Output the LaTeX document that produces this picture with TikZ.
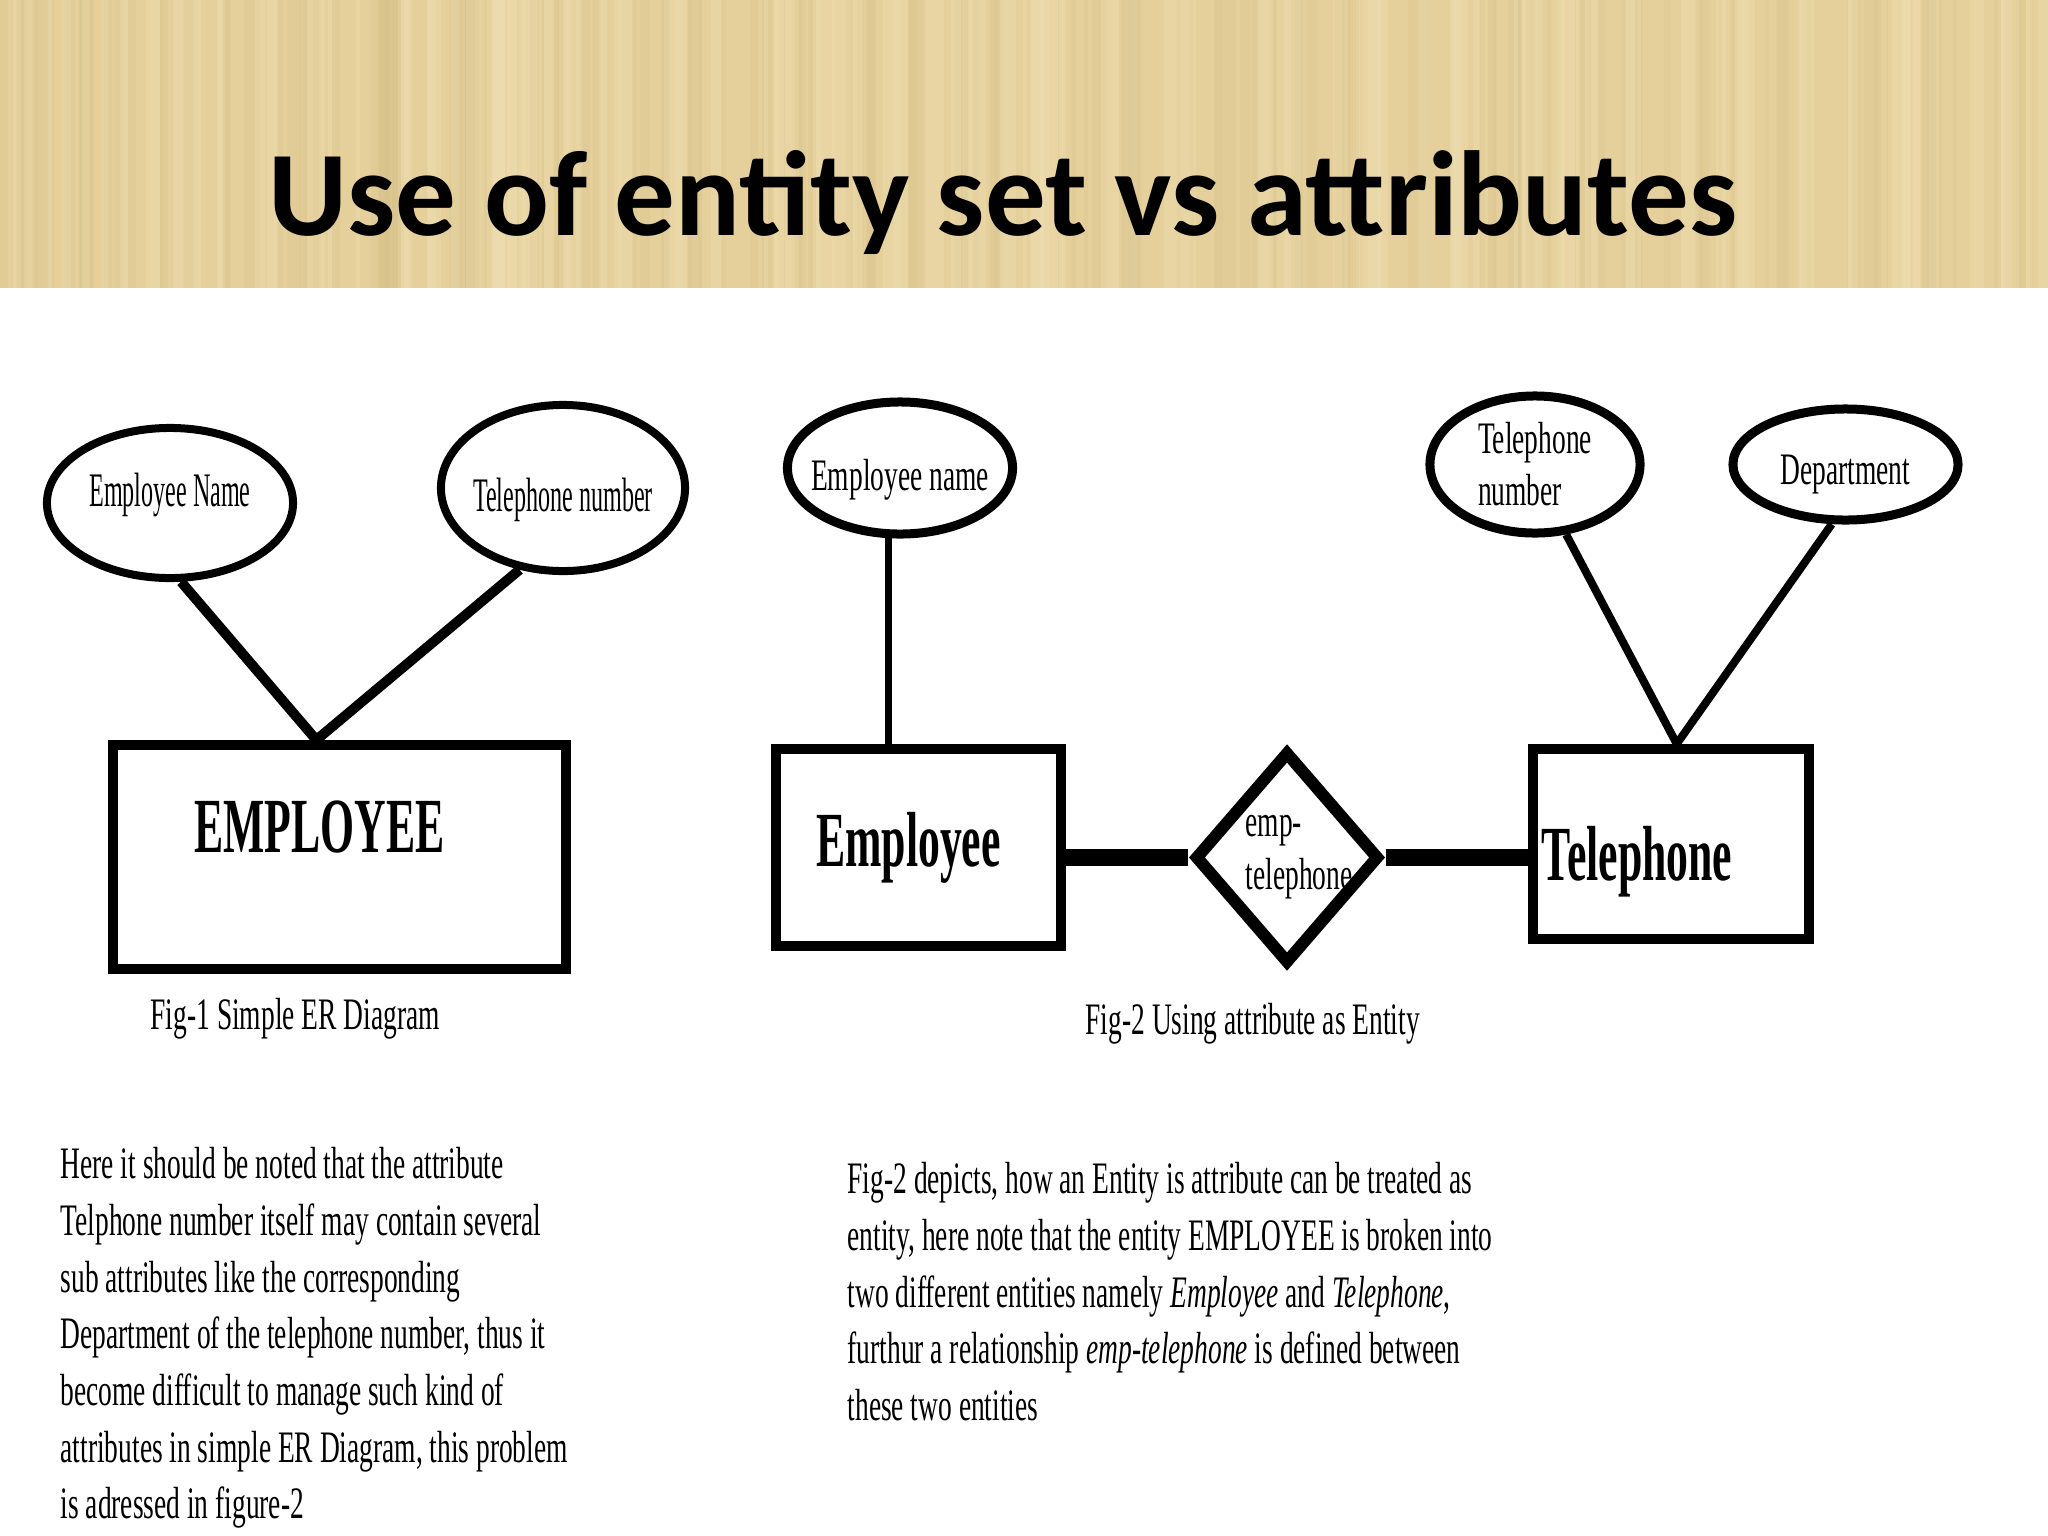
\documentclass[tikz,border=0pt]{standalone}
\usepackage{fontspec}
\setmainfont{Liberation Serif}
\newfontfamily\titlefont{Carlito}
\newfontfamily\slidefont[FakeStretch=0.61]{Liberation Serif}
\newfontfamily\ovalfont[FakeStretch=0.5]{Liberation Serif}
\newfontfamily\boxfont[FakeStretch=0.56]{Liberation Serif}
\usetikzlibrary{shapes.geometric,positioning,calc}
\usepackage{xcolor}
\definecolor{slidetan}{RGB}{229,208,156}
\definecolor{tandark}{RGB}{210,186,130}
\definecolor{tanlight}{RGB}{242,228,186}
\definecolor{erink}{RGB}{0,0,0}
\tikzset{
    entity/.style={
        draw=erink,line width=0.1cm,rectangle,inner sep=0pt
    },
    boxtext/.style={
        font=\boxfont\bfseries\fontsize{22.2}{26}\selectfont,inner sep=0pt
    },
    attr/.style={
        draw=erink,line width=#1,ellipse,inner xsep=-0.1cm,inner ysep=0pt,
        align=center,font=\slidefont\fontsize{12.8}{14.8}\selectfont
    },
    attr/.default=0.09cm,
    simpleattr/.style={
        attr=0.08cm,font=\ovalfont\fontsize{13.7}{16}\selectfont
    },
    rel/.style={
        draw=erink,line width=0.12cm,diamond,inner sep=0pt
    },
    reltext/.style={
        font=\slidefont\fontsize{12.8}{15.1}\selectfont,align=left,inner sep=0pt
    },
    conn/.style={
        draw=erink,line width=#1
    },
    conn/.default=0.1cm,
    captext/.style={
        font=\slidefont\fontsize{12.8}{15}\selectfont,inner sep=0pt
    },
    paratext/.style={
        font=\slidefont\fontsize{12.8}{16.1}\selectfont,align=left,inner sep=0pt
    },
    titletext/.style={
        font=\titlefont\bfseries\fontsize{34.4}{40}\selectfont,inner sep=0pt
    }
}
\begin{document}
\begin{tikzpicture}[x=0.01cm,y=-0.01cm]

\useasboundingbox (0,0) rectangle (2048,1536);
% papyrus band
\fill[slidetan] (0,0) rectangle (2048,288);
\pgfmathsetseed{11}
\foreach \i in {1,...,140}{
    \pgfmathsetmacro\xx{random(0,2048)}
    \pgfmathsetmacro\ww{random(1,4)}
    \draw[tandark,opacity=0.18,line width=\ww pt] (\xx,0)--(\xx,288);
}
\foreach \i in {1,...,120}{
    \pgfmathsetmacro\xx{random(0,2048)}
    \pgfmathsetmacro\ww{random(1,5)}
    \draw[tanlight,opacity=0.25,line width=\ww pt] (\xx,0)--(\xx,288);
}
\node[titletext,anchor=base west] (title) at (268,235) {Use of entity set vs attributes};

% Fig-1: simple ER diagram
\node[entity,minimum width=4.53cm,minimum height=2.24cm,
label={[boxtext,xshift=-0.2cm,yshift=0.3cm]center:EMPLOYEE}]
(emp1) at (339.5,857) {};

\node[simpleattr,minimum width=2.46cm,minimum height=1.50cm,text depth=0.26cm]
(ename1) at (170,503) {Employee Name};

\node[simpleattr,minimum width=2.44cm,minimum height=1.66cm,text height=0.57cm]
(tnum1) at (563,488) {Telephone number};

\coordinate (join1) at ($(emp1.north west)!0.45!(emp1.north east)$);
\draw[conn](ename1.-82)--(join1);
\draw[conn](tnum1.-118)--(join1);

\node[captext,anchor=base west] (cap1) at (150,1029) {Fig-1 Simple ER Diagram};

% Fig-2: attribute as entity
\node[entity,minimum width=2.85cm,minimum height=1.97cm,
label={[boxtext,xshift=-0.1cm]center:Employee}]
(emp2) at (918.5,847.5) {};

\node[rel,minimum width=1.85cm,minimum height=2.13cm,
label={[reltext,xshift=0.12cm]center:{emp-\\telephone}}]
(emptel) at (1287,857.5) {};

\node[entity,minimum width=2.76cm,minimum height=1.90cm,
label={[boxtext,xshift=-0.34cm,yshift=-0.18cm]center:Telephone}]
(tel) at (1671,844) {};

\node[attr,minimum width=2.25cm,minimum height=1.32cm,text height=0.55cm]
(ename2) at (900,468) {Employee name};

\node[attr,minimum width=2.10cm,minimum height=1.37cm,align=left]
(tnum2) at (1535,464.5) {Telephone\\number};

\node[attr,minimum width=2.25cm,minimum height=1.11cm,text height=0.49cm]
(dept) at (1845.5,464.5) {Department};

\draw[conn=0.07cm](ename2.-99)--(ename2.-99 |- emp2.north);
\draw[conn=0.17cm](emptel.west)--(emptel.west -| emp2.east);
\draw[conn=0.17cm](emptel.east)--(emptel.east -| tel.west);

\coordinate (join2) at ($(tel.north west)!0.52!(tel.north east)$);
\draw[conn=0.08cm](tnum2.-66)--(join2);
\draw[conn=0.08cm](dept.-103)--(join2);

\node[captext,anchor=base west] (cap2) at (1085,1034) {Fig-2 Using attribute as Entity};

% notes under the figures
\node[paratext,anchor=north west] (note1) at (60,1147)
{Here it should be noted that the attribute\\
Telphone number itself may contain several\\
sub attributes like the corresponding\\
Department of the telephone number, thus it\\
become difficult to manage such kind of\\
attributes in simple ER Diagram, this problem\\
is adressed in figure-2};

\node[paratext,anchor=north west] (note2) at (847,1162)
{Fig-2 depicts, how an Entity is attribute can be treated as\\
entity, here note that the entity EMPLOYEE is broken into\\
two different entities namely \textit{Employee} and \textit{Telephone},\\
furthur a relationship \textit{emp-telephone} is defined between\\
these two entities};

\end{tikzpicture}
\end{document}
